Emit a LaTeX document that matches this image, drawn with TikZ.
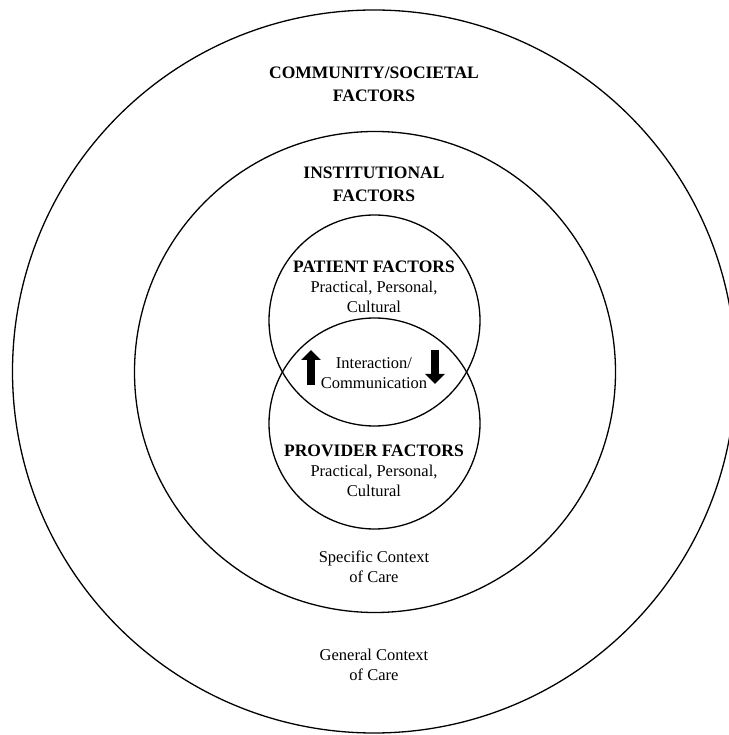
\documentclass[tikz,border=0pt]{standalone}
\usepackage{fontspec}
\setmainfont{Liberation Serif}
\usetikzlibrary{arrows.meta}
\tikzset{
  ring/.style={line width=1.3pt},
  hdr/.style={font=\fontsize{17.5}{23}\selectfont\bfseries, align=center, inner sep=0pt},
  body/.style={font=\fontsize{16.5}{20}\selectfont, align=center, inner sep=0pt},
  fatarrow/.style={line width=8.5pt, -{Triangle[width=19pt,length=10pt]}}
}
\begin{document}
\begin{tikzpicture}
			\useasboundingbox (-374pt,-363pt) rectangle (354pt,372pt);
			\draw[ring] (0,0.5pt) circle (361.5pt);
			\draw[ring] (1pt,0) circle (240.5pt);
			\draw[ring] (0.5pt,51.5pt) circle (105.5pt);
			\draw[ring] (0.5pt,-51.5pt) circle (105.5pt);
			\node[hdr] (community) at (0,288pt) {COMMUNITY/SOCIETAL\\FACTORS};
			\node[hdr] (institution) at (0,188pt) {INSTITUTIONAL\\FACTORS};
			\node[body] (patient) at (0,85pt) {{\fontsize{17.5}{21}\selectfont\bfseries PATIENT FACTORS}\\Practical, Personal,\\Cultural};
			\node[body] (interact) at (0,-1pt) {Interaction/\\Communication};
			\node[body] (provider) at (0,-99pt) {{\fontsize{17.5}{22}\selectfont\bfseries PROVIDER FACTORS}\\Practical, Personal,\\Cultural};
			\node[body] (specific) at (0,-195pt) {Specific Context\\of Care};
			\node[body] (general) at (0,-293pt) {General Context\\of Care};
			\coordinate (upfoot) at (-63pt,-13pt);
			\coordinate (uphead) at (-63pt,22pt);
			\coordinate (downfoot) at (61pt,22pt);
			\coordinate (downhead) at (61pt,-12pt);
			\draw[fatarrow] (upfoot) -- (uphead);
			\draw[fatarrow] (downfoot) -- (downhead);
\end{tikzpicture}
\end{document}
